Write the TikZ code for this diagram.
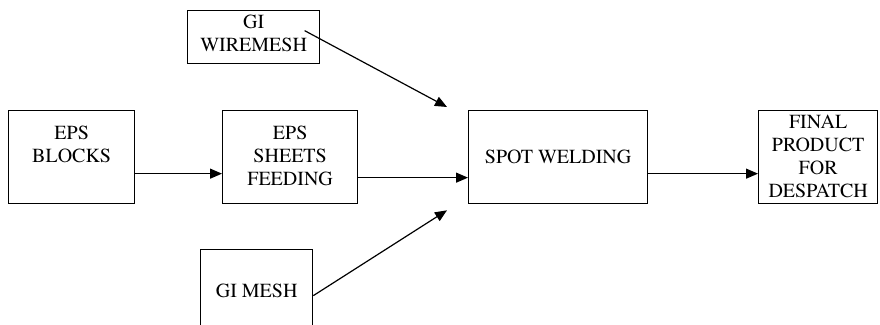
\documentclass[tikz,border=0pt]{standalone}
\usepackage[T1]{fontenc}
\usepackage{times}
\usetikzlibrary{arrows.meta}
% text set from the top of a box of fixed size
\newcommand{\boxtext}[4]{\parbox[t][#2pt][t]{#1pt}{\centering\vspace*{#3pt}\strut #4}}

\begin{document}
\begin{tikzpicture}[
                x=1pt, y=-1pt,
                % Style for the boxes
                procbox/.style={
                    draw=black, line width=1.3pt,
                    fill=white, inner sep=0pt,
                    anchor=north west,
                    font=\rmfamily\fontsize{20}{23}\selectfont
                },
                % Style for the arrows
                flow/.style={
                    -{Triangle[length=12pt,width=10pt]}, line width=1.2pt, color=black
                }
            ]
                \clip (0,0) rectangle (880,324);

                % 1. Boxes
                \node[procbox] (wire) at (187,10) {\boxtext{132}{53}{2}{GI\\WIREMESH}};
                \node[procbox] (blocks) at (8,110) {\boxtext{126}{93}{13}{EPS\\BLOCKS}};
                \node[procbox] (sheets) at (222,110) {\boxtext{135}{93}{13}{EPS\\SHEETS\\FEEDING}};
                \node[procbox] (weld) at (468,110) {\boxtext{179}{93}{37}{SPOT WELDING}};
                \node[procbox] (final) at (758,110) {\boxtext{119}{93}{2}{FINAL\\PRODUCT\\FOR\\DESPATCH}};
                \node[procbox] (gimesh) at (200,249) {\boxtext{112}{100}{32}{GI MESH}};

                % 2. Main line
                \draw[flow] ([yshift=-16.5pt]blocks.east) -- ([yshift=-16.5pt]sheets.west);
                \draw[flow] ([yshift=-20.5pt]sheets.east) -- ([yshift=-20.5pt]weld.west);
                \draw[flow] ([yshift=-16.5pt]weld.east) -- ([yshift=-16.5pt]final.west);

                % 3. Meshes into the welding
                \draw[flow] ([shift={(51,-6.5)}]wire.center) -- ([shift={(-21,-3)}]weld.north west);
                \draw[flow] ([yshift=4pt]gimesh.east) -- ([shift={(-21,6)}]weld.south west);

            \end{tikzpicture}
\end{document}
